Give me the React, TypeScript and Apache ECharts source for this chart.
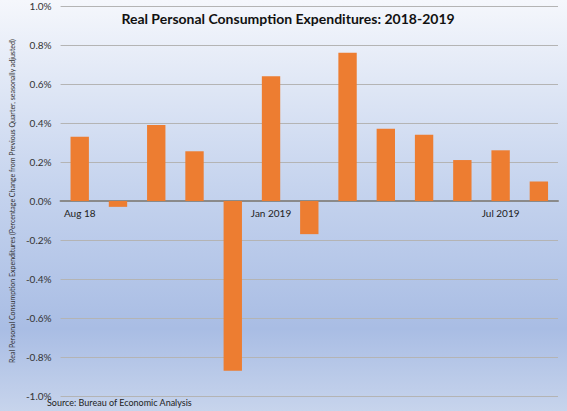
import React, { useEffect, useRef } from 'react';
import * as echarts from 'echarts';

const categories = [
  'Aug 18', 'Sep 18', 'Oct 18', 'Nov 18', 'Dec 18', 'Jan 2019', 'Feb 2019',
  'Mar 2019', 'Apr 2019', 'May 2019', 'Jun 2019', 'Jul 2019', 'Aug 2019',
];
const values = [0.33, -0.03, 0.39, 0.255, -0.87, 0.64, -0.17, 0.76, 0.37, 0.34, 0.21, 0.26, 0.1];
const shownLabels = [0, 5, 11]; // months labelled on the axis

const FONT = 'Lato, "Open Sans", sans-serif';

const App: React.FC = () => {
  const chartRef = useRef<HTMLDivElement | null>(null);

  useEffect(() => {
    if (!chartRef.current) return;
    const myChart = echarts.init(chartRef.current, undefined, { renderer: 'svg' });

    const option: echarts.EChartsOption = {
      animation: false,
      backgroundColor: new echarts.graphic.LinearGradient(0, 0, 0, 1, [
        { offset: 0, color: '#f5f7fc' },
        { offset: 0.45, color: '#c6d4ee' },
        { offset: 0.8, color: '#a9bde4' },
        { offset: 1, color: '#c7d4ec' },
      ]),
      title: {
        text: 'Real Personal Consumption Expenditures: 2018-2019',
        left: 283,
        top: 6,
        textAlign: 'center',
        textStyle: { fontFamily: FONT, fontSize: 14, fontWeight: 'bold', color: '#111' },
      },
      grid: { left: 48, right: 9, top: 6, bottom: 15, containLabel: false },
      xAxis: {
        type: 'category',
        data: categories,
        // move the axis up to the 0% line (grid height 390, half is 195)
        offset: -195,
        axisLine: { onZero: false, lineStyle: { color: '#8a8a8a', width: 2 } },
        axisTick: { show: false },
        axisLabel: {
          interval: (index: number) => shownLabels.includes(index),
          margin: 7,
          fontFamily: FONT,
          fontSize: 10,
          color: '#222',
        },
      },
      yAxis: {
        type: 'value',
        min: -1,
        max: 1,
        interval: 0.2,
        name: 'Real Personal Consumption Expenditures (Percentage Change from Previous Quarter, seasonally adjusted)',
        nameLocation: 'middle',
        nameGap: 40,
        nameTextStyle: { fontFamily: FONT, fontSize: 7, color: '#333' },
        axisLine: { show: false },
        axisTick: { show: false },
        axisLabel: {
          formatter: (v: number) => v.toFixed(1) + '%',
          fontFamily: FONT,
          fontSize: 10,
          color: '#333',
          margin: 9,
        },
        splitLine: { lineStyle: { color: '#b4b4b4', width: 1 } },
      },
      series: [
        {
          type: 'bar',
          data: values,
          barCategoryGap: '52%',
          itemStyle: { color: '#ed7d31' },
        },
      ],
      graphic: [
        {
          type: 'text',
          left: 47,
          top: 398,
          style: {
            text: 'Source: Bureau of Economic Analysis',
            font: `9px ${FONT}`,
            fill: '#222',
          },
        },
      ],
    };

    myChart.setOption(option);
    return () => {
      myChart.dispose();
    };
  }, []);

  return (
    <div style={{ position: 'fixed', left: 0, top: 0, width: 567, height: 411 }}>
      <div ref={chartRef} style={{ width: '100%', height: '100%' }}></div>
    </div>
  );
};

export default App;
